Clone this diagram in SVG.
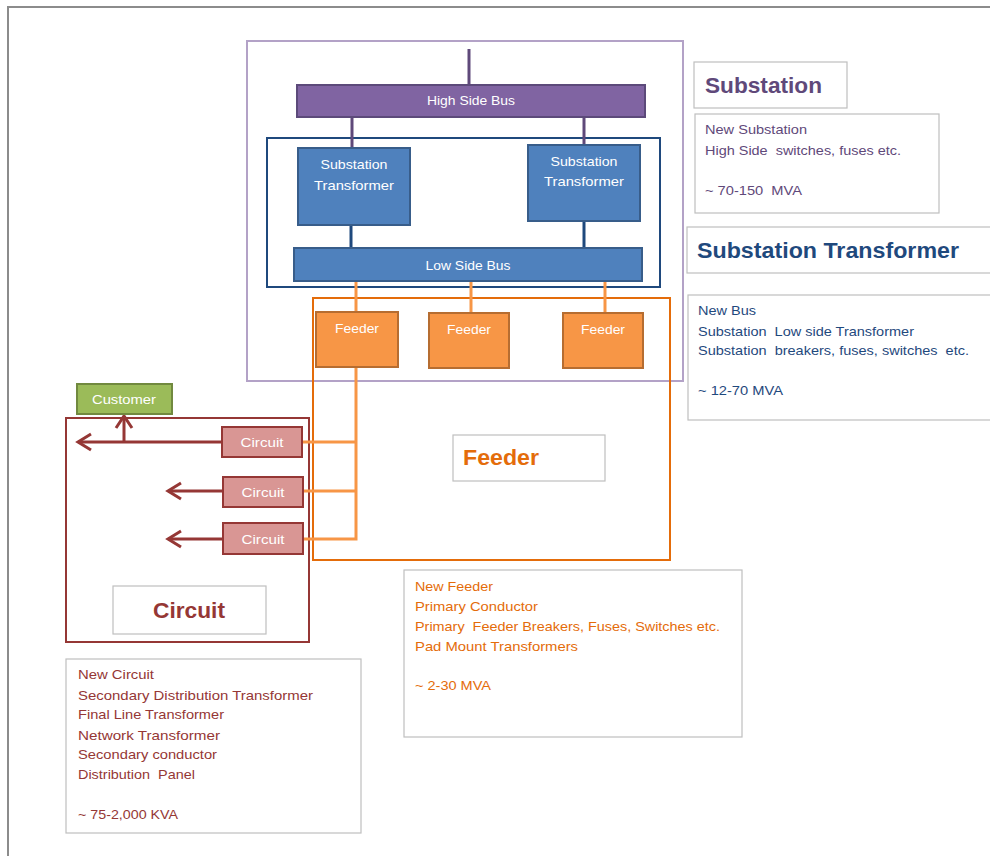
<svg xmlns="http://www.w3.org/2000/svg" width="990" height="856" viewBox="0 0 990 856">
<style>
text{font-family:"Liberation Sans",Arial,sans-serif}
.wt{fill:#fff;font-size:13.5px;text-anchor:middle}
.lbl{fill:#fff;stroke:#bfbfbf;stroke-width:1.2}
.ttl{font-weight:bold;font-size:22px}
.txt{font-size:13.5px}
.pur{fill:#5f497a}.blu{fill:#1f497d}.org{fill:#e46c0a}.red{fill:#953735}
</style>
<rect width="990" height="856" fill="#fff"/>
<path d="M8 856 V7 H990" fill="none" stroke="#8c8c8c" stroke-width="2"/>

<g id="containers" fill="none">
<rect id="substation-area" x="247" y="41" width="436" height="340" stroke="#b3a2c7" stroke-width="2"/>
<rect id="transformer-area" x="267" y="138" width="393" height="149" stroke="#1f497d" stroke-width="2"/>
<rect id="feeder-area" x="313" y="298" width="357" height="262" stroke="#e46c0a" stroke-width="2"/>
<rect id="circuit-area" x="66" y="418" width="243" height="224" stroke="#953735" stroke-width="2"/>
</g>

<g id="connectors" fill="none">
<g stroke="#5f497a" stroke-width="3">
<line x1="469" y1="49" x2="469" y2="85"/>
<line x1="352" y1="117" x2="352" y2="148"/>
<line x1="584" y1="117" x2="584" y2="145"/>
</g>
<g stroke="#1f497d" stroke-width="3">
<line x1="351" y1="225" x2="351" y2="249"/>
<line x1="584" y1="221" x2="584" y2="249"/>
</g>
<g stroke="#f79646" stroke-width="3">
<line x1="356" y1="281" x2="356" y2="312"/>
<line x1="471" y1="281" x2="471" y2="313"/>
<line x1="605" y1="281" x2="605" y2="313"/>
<polyline points="356,367 356,539 302,539"/>
<line x1="302" y1="442" x2="356" y2="442"/>
<line x1="302" y1="491" x2="356" y2="491"/>
</g>
<g stroke="#953735" stroke-width="3">
<line x1="222" y1="442" x2="78" y2="442"/>
<polyline points="91,434 78,442 91,450"/>
<line x1="124" y1="442" x2="124" y2="416"/>
<polyline points="116,428 124,416 132,428"/>
<line x1="223" y1="491" x2="168" y2="491"/>
<polyline points="181,483 168,491 181,499"/>
<line x1="223" y1="539" x2="168" y2="539"/>
<polyline points="181,531 168,539 181,547"/>
</g>
</g>

<g id="high-side-bus">
<rect x="297" y="85" width="348" height="32" fill="#8064a2" stroke="#5c4a7a" stroke-width="2"/>
<text class="wt" x="471" y="105" textLength="88" lengthAdjust="spacingAndGlyphs">High Side Bus</text>
</g>
<g id="transformer-1">
<rect x="298" y="148" width="112" height="77" fill="#4f81bd" stroke="#385d8a" stroke-width="2"/>
<text class="wt" x="354" y="169" textLength="67" lengthAdjust="spacingAndGlyphs">Substation</text>
<text class="wt" x="354" y="190" textLength="80" lengthAdjust="spacingAndGlyphs">Transformer</text>
</g>
<g id="transformer-2">
<rect x="528" y="145" width="112" height="76" fill="#4f81bd" stroke="#385d8a" stroke-width="2"/>
<text class="wt" x="584" y="166" textLength="67" lengthAdjust="spacingAndGlyphs">Substation</text>
<text class="wt" x="584" y="186" textLength="80" lengthAdjust="spacingAndGlyphs">Transformer</text>
</g>
<g id="low-side-bus">
<rect x="294" y="248" width="348" height="33" fill="#4f81bd" stroke="#385d8a" stroke-width="2"/>
<text class="wt" x="468" y="270" textLength="85" lengthAdjust="spacingAndGlyphs">Low Side Bus</text>
</g>
<g id="feeder-1">
<rect x="316" y="312" width="82" height="55" fill="#f79646" stroke="#b66d31" stroke-width="2"/>
<text class="wt" x="357" y="333" textLength="44" lengthAdjust="spacingAndGlyphs">Feeder</text>
</g>
<g id="feeder-2">
<rect x="429" y="313" width="80" height="55" fill="#f79646" stroke="#b66d31" stroke-width="2"/>
<text class="wt" x="469" y="334" textLength="44" lengthAdjust="spacingAndGlyphs">Feeder</text>
</g>
<g id="feeder-3">
<rect x="563" y="313" width="80" height="55" fill="#f79646" stroke="#b66d31" stroke-width="2"/>
<text class="wt" x="603" y="334" textLength="44" lengthAdjust="spacingAndGlyphs">Feeder</text>
</g>
<g id="customer">
<rect x="77" y="384" width="95" height="30" fill="#9bbb59" stroke="#71893f" stroke-width="2"/>
<text class="wt" x="124" y="404" textLength="64" lengthAdjust="spacingAndGlyphs">Customer</text>
</g>
<g id="circuit-1">
<rect x="222" y="427" width="80" height="30" fill="#d99694" stroke="#953735" stroke-width="2"/>
<text class="wt" x="262" y="447" textLength="43" lengthAdjust="spacingAndGlyphs">Circuit</text>
</g>
<g id="circuit-2">
<rect x="223" y="477" width="80" height="30" fill="#d99694" stroke="#953735" stroke-width="2"/>
<text class="wt" x="263" y="497" textLength="43" lengthAdjust="spacingAndGlyphs">Circuit</text>
</g>
<g id="circuit-3">
<rect x="223" y="523" width="80" height="31" fill="#d99694" stroke="#953735" stroke-width="2"/>
<text class="wt" x="263" y="544" textLength="43" lengthAdjust="spacingAndGlyphs">Circuit</text>
</g>

<g id="feeder-label">
<rect class="lbl" x="453" y="435" width="152" height="46"/>
<text class="ttl org" x="463" y="465" textLength="76" lengthAdjust="spacingAndGlyphs">Feeder</text>
</g>
<g id="circuit-label">
<rect class="lbl" x="113" y="586" width="153" height="48"/>
<text class="ttl red" x="153" y="618" textLength="72" lengthAdjust="spacingAndGlyphs">Circuit</text>
</g>
<g id="substation-title">
<rect class="lbl" x="694" y="62" width="153" height="46"/>
<text class="ttl pur" x="705" y="93" textLength="117" lengthAdjust="spacingAndGlyphs">Substation</text>
</g>
<g id="substation-info">
<rect class="lbl" x="695" y="114" width="244" height="99"/>
<text class="txt pur" x="705" y="134" textLength="102" lengthAdjust="spacingAndGlyphs">New Substation</text>
<text class="txt pur" x="705" y="155" textLength="196" lengthAdjust="spacingAndGlyphs" xml:space="preserve">High Side  switches, fuses etc.</text>
<text class="txt pur" x="705" y="195" textLength="97" lengthAdjust="spacingAndGlyphs" xml:space="preserve">~ 70-150  MVA</text>
</g>
<g id="transformer-title">
<rect class="lbl" x="687" y="227" width="310" height="46"/>
<text class="ttl blu" x="697" y="258" textLength="262" lengthAdjust="spacingAndGlyphs">Substation Transformer</text>
</g>
<g id="transformer-info">
<rect class="lbl" x="688" y="295" width="310" height="125"/>
<text class="txt blu" x="698" y="315" textLength="58" lengthAdjust="spacingAndGlyphs">New Bus</text>
<text class="txt blu" x="698" y="336" textLength="216" lengthAdjust="spacingAndGlyphs" xml:space="preserve">Substation  Low side Transformer</text>
<text class="txt blu" x="698" y="355" textLength="271" lengthAdjust="spacingAndGlyphs" xml:space="preserve">Substation  breakers, fuses, switches  etc.</text>
<text class="txt blu" x="698" y="395" textLength="85" lengthAdjust="spacingAndGlyphs">~ 12-70 MVA</text>
</g>
<g id="feeder-info">
<rect class="lbl" x="404" y="570" width="338" height="167"/>
<text class="txt org" x="415" y="591" textLength="78" lengthAdjust="spacingAndGlyphs">New Feeder</text>
<text class="txt org" x="415" y="611" textLength="123" lengthAdjust="spacingAndGlyphs">Primary Conductor</text>
<text class="txt org" x="415" y="631" textLength="305" lengthAdjust="spacingAndGlyphs" xml:space="preserve">Primary  Feeder Breakers, Fuses, Switches etc.</text>
<text class="txt org" x="415" y="651" textLength="163" lengthAdjust="spacingAndGlyphs">Pad Mount Transformers</text>
<text class="txt org" x="415" y="690" textLength="76" lengthAdjust="spacingAndGlyphs">~ 2-30 MVA</text>
</g>
<g id="circuit-info">
<rect class="lbl" x="66" y="659" width="295" height="174"/>
<text class="txt red" x="78" y="679" textLength="76" lengthAdjust="spacingAndGlyphs">New Circuit</text>
<text class="txt red" x="78" y="700" textLength="235" lengthAdjust="spacingAndGlyphs">Secondary Distribution Transformer</text>
<text class="txt red" x="78" y="719" textLength="146" lengthAdjust="spacingAndGlyphs">Final Line Transformer</text>
<text class="txt red" x="78" y="740" textLength="142" lengthAdjust="spacingAndGlyphs">Network Transformer</text>
<text class="txt red" x="78" y="759" textLength="139" lengthAdjust="spacingAndGlyphs">Secondary conductor</text>
<text class="txt red" x="78" y="779" textLength="117" lengthAdjust="spacingAndGlyphs" xml:space="preserve">Distribution  Panel</text>
<text class="txt red" x="78" y="819" textLength="100" lengthAdjust="spacingAndGlyphs">~ 75-2,000 KVA</text>
</g>
</svg>
